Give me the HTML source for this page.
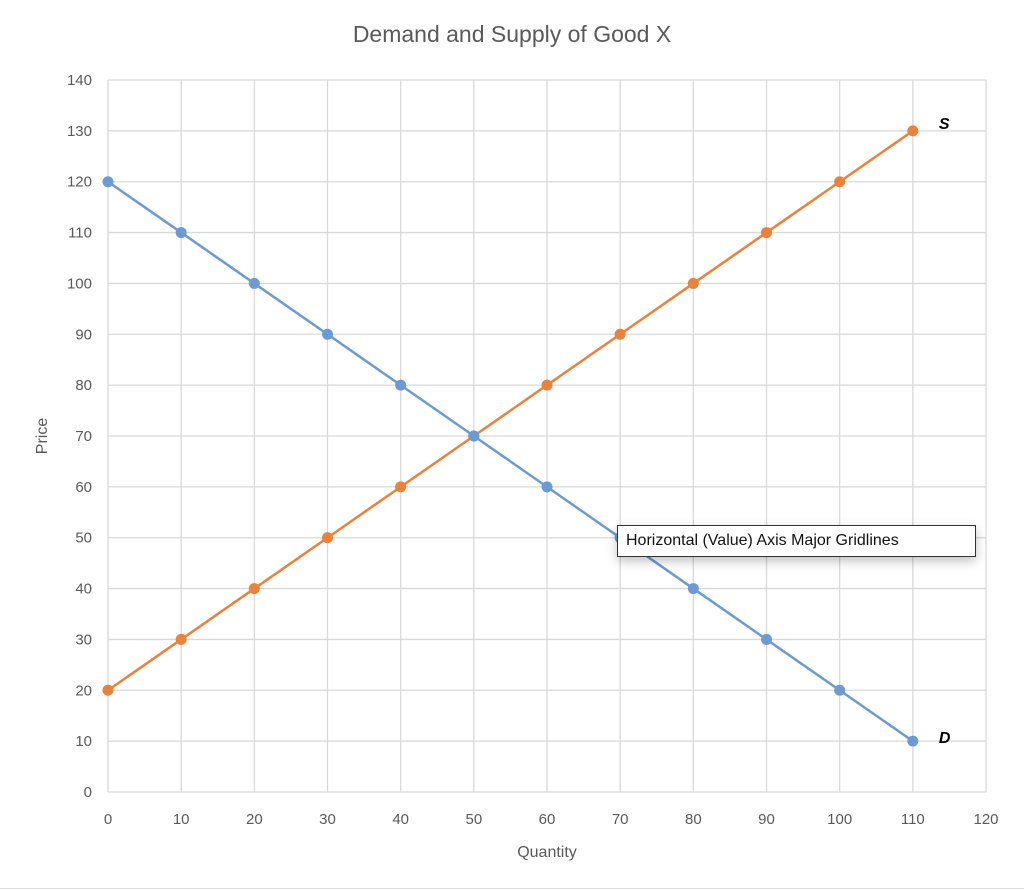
<!DOCTYPE html>
<html><head><meta charset="utf-8"><style>
body{margin:0;background:#fff;width:1024px;height:890px;overflow:hidden;font-family:"Liberation Sans",sans-serif}
#tip{position:absolute;left:617px;top:525px;width:356px;height:30px;border:1px solid #333;background:#fff;box-shadow:0 4px 10px rgba(0,0,0,0.25);font-size:16px;line-height:30px;padding-left:8px;box-sizing:border-box;width:359px;height:32px;color:#111}
</style></head><body>
<svg id="chart" width="1024" height="890" style="position:absolute;left:0;top:0">
<text x="512" y="42" text-anchor="middle" font-size="23" fill="#595959">Demand and Supply of Good X</text>
<g id="grid"></g><g id="series"></g>
<text transform="translate(47,436) rotate(-90)" text-anchor="middle" font-size="16" fill="#595959">Price</text>
<text x="547" y="857" text-anchor="middle" font-size="16" fill="#595959">Quantity</text>
<line x1="0" y1="888.5" x2="1024" y2="888.5" stroke="#ddd"/>
</svg>
<div id="tip">Horizontal (Value) Axis Major Gridlines</div>
<script>
const quantities=[0,10,20,30,40,50,60,70,80,90,100,110];
const demand=[120,110,100,90,80,70,60,50,40,30,20,10];
const supply=[20,30,40,50,60,70,80,90,100,110,120,130];
const xTicks=[0,10,20,30,40,50,60,70,80,90,100,110,120];
const yTicks=[0,10,20,30,40,50,60,70,80,90,100,110,120,130,140];
const X=v=>108+v*(986-108)/120, Y=v=>792-v*(792-80)/140;
const NS="http://www.w3.org/2000/svg";
function mk(t,a,p){const e=document.createElementNS(NS,t);for(const k in a)e.setAttribute(k,a[k]);p.appendChild(e);return e;}
const g=document.getElementById('grid'), s=document.getElementById('series');
xTicks.forEach(v=>{
 const l=mk('line',{x1:X(v),x2:X(v),y1:80,y2:792,stroke:'#d9d9d9','stroke-width':1.3},g);
 
 
 const t=mk('text',{x:X(v),y:824,'text-anchor':'middle','font-size':15,fill:'#595959'},g);t.textContent=v;
 
 
});
yTicks.forEach(v=>{
 const l=mk('line',{x1:108,x2:986,y1:Y(v),y2:Y(v),stroke:'#d9d9d9','stroke-width':1.3},g);
 
 
 const t=mk('text',{x:92,y:Y(v)+5,'text-anchor':'end','font-size':15,fill:'#595959'},g);t.textContent=v;
 
 
});
function series(vals,col,name){
 const p=mk('polyline',{points:quantities.map((q,i)=>X(q)+','+Y(vals[i])).join(' '),fill:'none',stroke:col,'stroke-width':2.5},s);
 
 
 quantities.forEach((q,i)=>{const c=mk('circle',{cx:X(q),cy:Y(vals[i]),r:5.5,fill:col},s);
  
  });
}
series(supply,'#e8823d','supply');
series(demand,'#6b9bd2','demand');
const last=quantities.length-1;
const sl=mk('text',{x:X(quantities[last])+26,y:Y(supply[last])-2,'font-size':16,'font-weight':'bold','font-style':'italic',fill:'#000'},s);sl.textContent='S';


const dl=mk('text',{x:X(quantities[last])+26,y:Y(demand[last])+2,'font-size':16,'font-weight':'bold','font-style':'italic',fill:'#000'},s);dl.textContent='D';


</script>
</body></html>
